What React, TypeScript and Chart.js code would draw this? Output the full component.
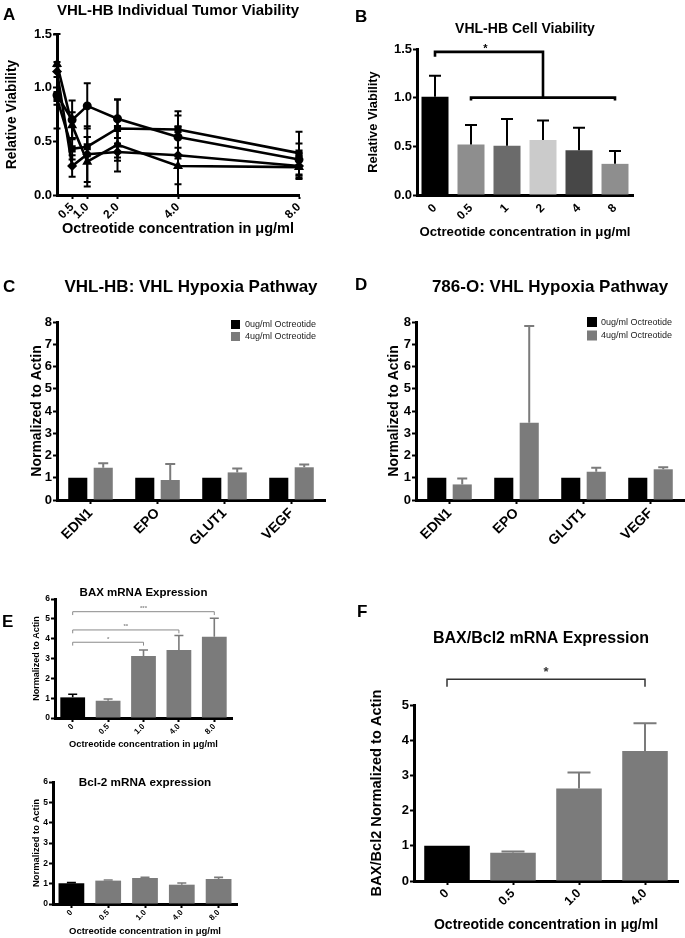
import React, { useEffect, useRef } from 'react';
import { Chart, registerables } from 'chart.js';

Chart.register(...registerables);

const FONT = "'Liberation Sans', Arial, Helvetica, sans-serif";
Chart.defaults.font.family = FONT;
Chart.defaults.color = '#000';

// ---------- Panel A: individual tumour viability ----------
const tumorDoses = [0, 0.5, 1, 2, 4, 8];
const tumorTickValues = [0.5, 1, 2, 4, 8];
const tumor1 = [0.93, 0.7, 0.83, 0.71, 0.54, 0.33];
const tumor2 = [0.9, 0.43, 0.45, 0.62, 0.61, 0.39];
const tumor3 = [1.22, 0.65, 0.31, 0.47, 0.27, 0.26];
const tumor4 = [1.15, 0.27, 0.38, 0.4, 0.37, 0.27];
const tumor1Err = [0.31, 0.18, 0.21, 0.18, 0.2, 0.15];
const tumor2Err = [0.06, 0.1, 0.09, 0.27, 0.17, 0.2];
const tumor3Err = [0.28, 0.12, 0.23, 0.25, 0.27, 0.1];
const tumor4Err = [0.05, 0.1, 0.26, 0.08, 0.27, 0.12];

// ---------- Panel B: cell viability ----------
const cellDoses = ['0', '0.5', '1', '2', '4', '8'];
const cellViability = [1.01, 0.52, 0.505, 0.566, 0.46, 0.32];
const cellViabilityErr = [0.215, 0.2, 0.275, 0.2, 0.23, 0.133];
const cellColors = ['#000000', '#8e8e8e', '#6b6b6b', '#cbcbcb', '#474747', '#8e8e8e'];

// ---------- Panels C / D: hypoxia pathway ----------
const genes = ['EDN1', 'EPO', 'GLUT1', 'VEGF'];
const seriesNames = ['0ug/ml Octreotide', '4ug/ml Octreotide'];
const vhlControl = [1, 1, 1, 1];
const vhlTreated = [1.45, 0.9, 1.24, 1.47];
const vhlTreatedErr = [0.2, 0.72, 0.18, 0.13];
const rccControl = [1, 1, 1, 1];
const rccTreated = [0.7, 3.47, 1.27, 1.38];
const rccTreatedErr = [0.27, 4.35, 0.18, 0.09];

// ---------- Panel E: BAX and Bcl-2 ----------
const mrnaDoses = ['0', '0.5', '1.0', '4.0', '8.0'];
const baxValues = [1.04, 0.87, 3.13, 3.43, 4.1];
const baxErr = [0.16, 0.09, 0.3, 0.73, 0.93];
const bcl2Values = [1.02, 1.15, 1.28, 0.95, 1.23];
const bcl2Err = [0.03, 0.03, 0.03, 0.08, 0.08];

// ---------- Panel F: BAX/Bcl2 ratio ----------
const ratioDoses = ['0', '0.5', '1.0', '4.0'];
const ratioValues = [1.0, 0.8, 2.63, 3.69];
const ratioErr = [0, 0.04, 0.45, 0.79];

const GRAY = '#7b7b7b';

// ---------- plugins ----------
const errorBarPlugin = {
  id: 'errorBars',
  afterDatasetsDraw(chart: any) {
    const ctx = chart.ctx;
    chart.data.datasets.forEach((ds: any, di: number) => {
      if (!ds.errorBars) return;
      const meta = chart.getDatasetMeta(di);
      const yScale = chart.scales[meta.yAxisID];
      ctx.save();
      ctx.lineWidth = ds.errorWidth || 2;
      meta.data.forEach((el: any, i: number) => {
        const raw = ds.data[i];
        const v = typeof raw === 'object' ? raw.y : raw;
        const e = ds.errorBars[i];
        if (!e) return;
        ctx.strokeStyle = Array.isArray(ds.errorColor) ? ds.errorColor[i] : ds.errorColor || '#000';
        const x = el.x;
        const yTop = yScale.getPixelForValue(v + e);
        const yBot = yScale.getPixelForValue(ds.errorBoth ? v - e : v);
        const half = (ds.errorCap || 8) / 2;
        ctx.beginPath();
        ctx.moveTo(x, yBot);
        ctx.lineTo(x, yTop);
        ctx.moveTo(x - half, yTop);
        ctx.lineTo(x + half, yTop);
        if (ds.errorBoth) {
          ctx.moveTo(x - half, yBot);
          ctx.lineTo(x + half, yBot);
        }
        ctx.stroke();
      });
      ctx.restore();
    });
  },
};

type Bracket = { from: number; to: number; y: number; dropFrom: number; dropTo: number; label?: string; labelAt?: number };

function bracketPlugin(items: Bracket[], color: string, width: number, fontSize: number, gap: number) {
  return {
    id: 'brackets',
    afterDraw(chart: any) {
      const ctx = chart.ctx;
      const xs = chart.scales.x;
      const ys = chart.scales.y;
      ctx.save();
      ctx.strokeStyle = color;
      ctx.fillStyle = color;
      ctx.lineWidth = width;
      ctx.lineJoin = 'miter';
      ctx.font = `bold ${fontSize}px ${FONT}`;
      ctx.textAlign = 'center';
      ctx.textBaseline = 'alphabetic';
      items.forEach((b) => {
        const x1 = xs.getPixelForValue(b.from);
        const x2 = xs.getPixelForValue(b.to);
        const yy = ys.getPixelForValue(b.y);
        ctx.beginPath();
        ctx.moveTo(x1, ys.getPixelForValue(b.dropFrom));
        ctx.lineTo(x1, yy);
        ctx.lineTo(x2, yy);
        ctx.lineTo(x2, ys.getPixelForValue(b.dropTo));
        ctx.stroke();
        if (b.label) {
          const lx = b.labelAt !== undefined ? xs.getPixelForValue(b.labelAt) : (x1 + x2) / 2;
          ctx.fillText(b.label, lx, yy - gap);
        }
      });
      ctx.restore();
    },
  };
}

type Decor = {
  title: string;
  titleSize: number;
  titleBaseline: number;
  titleX?: number;
  letter?: string;
  letterX?: number;
  letterBaseline?: number;
  legend?: { x: number; y: number; box: number; textX: number; step: number };
};

function decorPlugin(o: Decor) {
  return {
    id: 'decor',
    afterDraw(chart: any) {
      const ctx = chart.ctx;
      const ca = chart.chartArea;
      ctx.save();
      ctx.fillStyle = '#000';
      ctx.textBaseline = 'alphabetic';
      ctx.font = `bold ${o.titleSize}px ${FONT}`;
      ctx.textAlign = 'center';
      ctx.fillText(o.title, o.titleX !== undefined ? o.titleX : (ca.left + ca.right) / 2, o.titleBaseline);
      if (o.letter) {
        ctx.font = `bold 17px ${FONT}`;
        ctx.textAlign = 'left';
        ctx.fillText(o.letter, o.letterX, o.letterBaseline);
      }
      if (o.legend) {
        const lg = o.legend;
        ctx.font = `9px ${FONT}`;
        ctx.textAlign = 'left';
        ctx.textBaseline = 'middle';
        chart.data.datasets.forEach((ds: any, i: number) => {
          const y = lg.y + i * lg.step;
          ctx.fillStyle = ds.backgroundColor;
          ctx.fillRect(lg.x, y, lg.box, lg.box);
          ctx.fillStyle = '#222';
          ctx.fillText(ds.label, lg.textX, y + lg.box / 2 + 0.5);
        });
      }
      ctx.restore();
    },
  };
}

// ---------- axis helpers ----------
function yAxis(o: { max: number; step: number; decimals: number; width: number; tick: number; title: string; titleSize: number; titlePad: number }) {
  return {
    type: 'linear',
    min: 0,
    max: o.max,
    ticks: {
      stepSize: o.step,
      font: { size: o.tick, weight: 'bold' },
      padding: 1,
      color: '#000',
      callback: (v: any) => Number(v).toFixed(o.decimals),
    },
    grid: { display: true, drawOnChartArea: false, drawTicks: true, tickLength: 4, tickWidth: 2, tickColor: '#000' },
    border: { display: true, color: '#000', width: 3 },
    title: { display: true, text: o.title, color: '#000', font: { size: o.titleSize, weight: 'bold' }, padding: { top: o.titlePad, bottom: 0 } },
    afterFit: (s: any) => {
      s.width = o.width;
    },
  };
}

function xCategory(o: { height: number; tick: number; ticks: boolean; pad: number; title?: string; titleSize?: number; titlePad?: number }) {
  return {
    type: 'category',
    offset: true,
    ticks: { font: { size: o.tick, weight: 'bold' }, minRotation: 45, maxRotation: 45, autoSkip: false, padding: o.pad, color: '#000' },
    grid: { display: o.ticks, drawOnChartArea: false, drawTicks: o.ticks, offset: false, tickLength: 4, tickWidth: 2, tickColor: '#000' },
    border: { display: true, color: '#000', width: 3 },
    title: o.title
      ? { display: true, text: o.title, color: '#000', font: { size: o.titleSize, weight: 'bold' }, padding: { top: 0, bottom: o.titlePad } }
      : { display: false },
    afterFit: (s: any) => {
      s.height = o.height;
    },
  };
}

function baseOptions(padding: any, scales: any) {
  return {
    responsive: false,
    animation: false,
    devicePixelRatio: 1,
    events: [],
    layout: { padding },
    plugins: { legend: { display: false }, tooltip: { enabled: false }, title: { display: false } },
    scales,
  };
}

const XTITLE = 'Octreotide concentration in \u03bcg/ml';

// ---------- chart configs ----------
function configA() {
  const series = [tumor1, tumor2, tumor3, tumor4];
  const errs = [tumor1Err, tumor2Err, tumor3Err, tumor4Err];
  const styles = ['circle', 'rect', 'triangle', 'rectRot'];
  return {
    type: 'line',
    data: {
      datasets: series.map((s, k) => ({
        label: 'Tumor ' + (k + 1),
        data: tumorDoses.map((d, i) => ({ x: d, y: s[i] })),
        borderColor: '#000',
        backgroundColor: '#000',
        borderWidth: 2.6,
        pointRadius: 3.2,
        pointStyle: styles[k],
        pointBackgroundColor: '#000',
        pointBorderColor: '#000',
        tension: 0,
        clip: false,
        errorBars: errs[k],
        errorBoth: true,
        errorColor: '#000',
        errorWidth: 2,
        errorCap: 7,
      })),
    },
    options: baseOptions({ top: 34, right: 41, left: 0, bottom: 0 }, {
      x: {
        type: 'linear',
        min: 0,
        max: 8,
        afterBuildTicks: (s: any) => {
          s.ticks = tumorTickValues.map((v) => ({ value: v }));
        },
        ticks: { font: { size: 12, weight: 'bold' }, minRotation: 45, maxRotation: 45, autoSkip: false, padding: 1, color: '#000', callback: (v: any) => Number(v).toFixed(1) },
        grid: { display: true, drawOnChartArea: false, drawTicks: true, tickLength: 4, tickWidth: 2, tickColor: '#000' },
        border: { display: true, color: '#000', width: 3 },
        title: { display: true, text: XTITLE, color: '#000', font: { size: 14.5, weight: 'bold' }, padding: { top: 0, bottom: 7 } },
        afterFit: (s: any) => {
          s.height = 50;
        },
      },
      y: yAxis({ max: 1.5, step: 0.5, decimals: 1, width: 57, tick: 13, title: 'Relative Viability', titleSize: 13.8, titlePad: 4 }),
    }),
    plugins: [errorBarPlugin, decorPlugin({ title: 'VHL-HB Individual Tumor Viability', titleSize: 15, titleBaseline: 15, letter: 'A', letterX: 3, letterBaseline: 20 })],
  };
}

function configB() {
  const brackets: Bracket[] = [
    { from: 0, to: 3, y: 1.47, dropFrom: 1.42, dropTo: 1.0, label: '*', labelAt: 1.4 },
    { from: 1, to: 5, y: 1.0, dropFrom: 0.97, dropTo: 0.97 },
  ];
  return {
    type: 'bar',
    data: {
      labels: cellDoses,
      datasets: [
        {
          label: 'Cell viability',
          data: cellViability,
          backgroundColor: cellColors,
          borderWidth: 0,
          barPercentage: 0.75,
          categoryPercentage: 1,
          errorBars: cellViabilityErr,
          errorColor: '#000',
          errorWidth: 2,
          errorCap: 12,
        },
      ],
    },
    options: baseOptions({ top: 49, right: 52, left: 0, bottom: 0 }, {
      x: xCategory({ height: 50, tick: 12, ticks: false, pad: 6, title: XTITLE, titleSize: 13.2, titlePad: 5 }),
      y: yAxis({ max: 1.5, step: 0.5, decimals: 1, width: 77, tick: 13, title: 'Relative Viability', titleSize: 12.8, titlePad: 26 }),
    }),
    plugins: [
      errorBarPlugin,
      bracketPlugin(brackets, '#000', 2.6, 11, 0),
      decorPlugin({ title: 'VHL-HB Cell Viability', titleSize: 14, titleBaseline: 33, letter: 'B', letterX: 15, letterBaseline: 22 }),
    ],
  };
}

function configHypoxia(control: number[], treated: number[], treatedErr: number[], o: { yWidth: number; right: number; titlePad: number; title: string; letter: string; letterX: number; letterBaseline: number; legend: any }) {
  return {
    type: 'bar',
    data: {
      labels: genes,
      datasets: [
        { label: seriesNames[0], data: control, backgroundColor: '#000000', borderWidth: 0, barPercentage: 0.75, categoryPercentage: 0.76 },
        {
          label: seriesNames[1],
          data: treated,
          backgroundColor: GRAY,
          borderWidth: 0,
          barPercentage: 0.75,
          categoryPercentage: 0.76,
          errorBars: treatedErr,
          errorColor: GRAY,
          errorWidth: 2,
          errorCap: 10,
        },
      ],
    },
    options: baseOptions({ top: 82, right: o.right, left: 0, bottom: 0 }, {
      x: xCategory({ height: 50, tick: 14, ticks: true, pad: 1 }),
      y: yAxis({ max: 8, step: 1, decimals: 0, width: o.yWidth, tick: 13, title: 'Normalized to Actin', titleSize: 14, titlePad: o.titlePad }),
    }),
    plugins: [errorBarPlugin, decorPlugin({ title: o.title, titleSize: 17, titleBaseline: 52, letter: o.letter, letterX: o.letterX, letterBaseline: o.letterBaseline, legend: o.legend })],
  };
}

function configMrna(values: number[], errs: number[], o: { top: number; right: number; yWidth: number; xHeight: number; yTitlePad: number; yTitleSize: number; xTitleSize: number; xTitlePad: number; title: string; titleSize: number; titleBaseline: number; letter?: string; letterBaseline?: number; brackets?: Bracket[] }) {
  const colors = values.map((_, i) => (i === 0 ? '#000000' : GRAY));
  const plugins: any[] = [errorBarPlugin];
  if (o.brackets) plugins.push(bracketPlugin(o.brackets, '#8a8a8a', 1, 6, 1.5));
  plugins.push(decorPlugin({ title: o.title, titleSize: o.titleSize, titleBaseline: o.titleBaseline, letter: o.letter, letterX: 2, letterBaseline: o.letterBaseline }));
  return {
    type: 'bar',
    data: {
      labels: mrnaDoses,
      datasets: [
        {
          label: o.title,
          data: values,
          backgroundColor: colors,
          borderWidth: 0,
          barPercentage: 0.7,
          categoryPercentage: 1,
          errorBars: errs,
          errorColor: colors,
          errorWidth: 1.6,
          errorCap: 9,
        },
      ],
    },
    options: baseOptions({ top: o.top, right: o.right, left: 0, bottom: 0 }, {
      x: xCategory({ height: o.xHeight, tick: 8, ticks: true, pad: 0, title: XTITLE, titleSize: o.xTitleSize, titlePad: o.xTitlePad }),
      y: yAxis({ max: 6, step: 1, decimals: 0, width: o.yWidth, tick: 8.5, title: 'Normalized to Actin', titleSize: o.yTitleSize, titlePad: o.yTitlePad }),
    }),
    plugins,
  };
}

function configF() {
  const brackets: Bracket[] = [{ from: 0, to: 3, y: 5.73, dropFrom: 5.52, dropTo: 5.52, label: '*' }];
  const colors = ratioValues.map((_, i) => (i === 0 ? '#000000' : GRAY));
  return {
    type: 'bar',
    data: {
      labels: ratioDoses,
      datasets: [
        {
          label: 'BAX/Bcl2',
          data: ratioValues,
          backgroundColor: colors,
          borderWidth: 0,
          barPercentage: 0.69,
          categoryPercentage: 1,
          errorBars: ratioErr,
          errorColor: colors,
          errorWidth: 2,
          errorCap: 23,
        },
      ],
    },
    options: baseOptions({ top: 125, right: 7, left: 0, bottom: 0 }, {
      x: xCategory({ height: 57, tick: 12.5, ticks: true, pad: 1, title: XTITLE, titleSize: 14, titlePad: 4.6 }),
      y: yAxis({ max: 5, step: 1, decimals: 0, width: 74, tick: 13, title: 'BAX/Bcl2 Normalized to Actin', titleSize: 14.6, titlePad: 28 }),
    }),
    plugins: [
      errorBarPlugin,
      bracketPlugin(brackets, '#333', 1.5, 13, 3.5),
      decorPlugin({ title: 'BAX/Bcl2 mRNA Expression', titleSize: 16, titleBaseline: 63.3, titleX: 201, letter: 'F', letterX: 17, letterBaseline: 37 }),
    ],
  };
}

// ---------- components ----------
function Panel({ left, top, width, height, make }: { left: number; top: number; width: number; height: number; make: () => any }) {
  const ref = useRef<HTMLCanvasElement>(null);
  useEffect(() => {
    const chart = new Chart(ref.current as HTMLCanvasElement, make());
    return () => chart.destroy();
  }, []);
  return <canvas ref={ref} width={width} height={height} style={{ position: 'absolute', left, top, width, height }} />;
}

export default function App() {
  return (
    <div style={{ position: 'absolute', left: 0, top: 0, width: 685, height: 938, background: '#fff', overflow: 'hidden' }}>
      <Panel left={0} top={0} width={340} height={245} make={configA} />
      <Panel left={340} top={0} width={345} height={245} make={configB} />
      <Panel
        left={0}
        top={240}
        width={340}
        height={310}
        make={() =>
          configHypoxia(vhlControl, vhlTreated, vhlTreatedErr, {
            yWidth: 57,
            right: 15,
            titlePad: 29,
            title: 'VHL-HB: VHL Hypoxia Pathway',
            letter: 'C',
            letterX: 3,
            letterBaseline: 52,
            legend: { x: 231, y: 80, box: 9, textX: 245, step: 12 },
          })
        }
      />
      <Panel
        left={340}
        top={240}
        width={345}
        height={310}
        make={() =>
          configHypoxia(rccControl, rccTreated, rccTreatedErr, {
            yWidth: 76,
            right: 1,
            titlePad: 45.6,
            title: '786-O: VHL Hypoxia Pathway',
            letter: 'D',
            letterX: 15,
            letterBaseline: 50,
            legend: { x: 247, y: 77, box: 10, textX: 261, step: 13.5 },
          })
        }
      />
      <Panel
        left={0}
        top={560}
        width={340}
        height={195}
        make={() =>
          configMrna(baxValues, baxErr, {
            top: 39,
            right: 108,
            yWidth: 55,
            xHeight: 37,
            yTitlePad: 31,
            yTitleSize: 9,
            xTitleSize: 9.3,
            xTitlePad: 5,
            title: 'BAX mRNA Expression',
            titleSize: 11.5,
            titleBaseline: 36,
            letter: 'E',
            letterBaseline: 67,
            brackets: [
              { from: 0, to: 2, y: 3.82, dropFrom: 3.65, dropTo: 3.65, label: '*' },
              { from: 0, to: 3, y: 4.44, dropFrom: 4.27, dropTo: 4.27, label: '**' },
              { from: 0, to: 4, y: 5.36, dropFrom: 5.19, dropTo: 5.19, label: '***' },
            ],
          })
        }
      />
      <Panel
        left={0}
        top={755}
        width={340}
        height={183}
        make={() =>
          configMrna(bcl2Values, bcl2Err, {
            top: 27,
            right: 103,
            yWidth: 53,
            xHeight: 34,
            yTitlePad: 31,
            yTitleSize: 9.4,
            xTitleSize: 9.5,
            xTitlePad: 1.3,
            title: 'Bcl-2 mRNA expression',
            titleSize: 11.7,
            titleBaseline: 30.7,
          })
        }
      />
      <Panel left={340} top={580} width={345} height={358} make={configF} />
    </div>
  );
}
